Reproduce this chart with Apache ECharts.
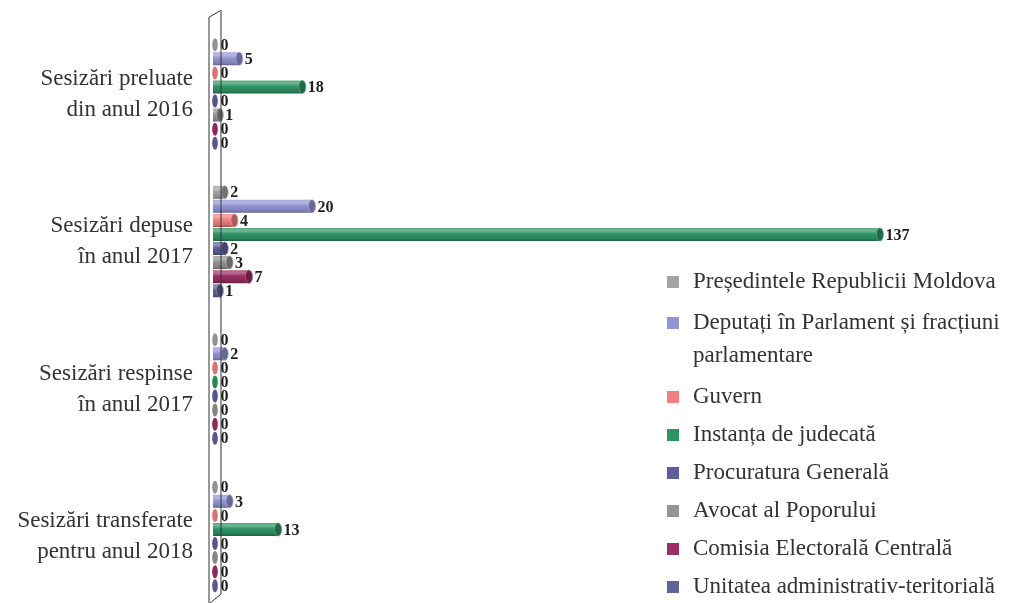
<!DOCTYPE html>
<html>
<head>
<meta charset="utf-8">
<title>Sesizări</title>
<script src="https://cdn.jsdelivr.net/npm/echarts@6.0.0/dist/echarts.min.js"></script>
<style>
  html, body { margin: 0; padding: 0; background: #ffffff; }
  #chart { width: 1018px; height: 603px; }
</style>
</head>
<body>
<div id="chart"></div>
<script>
// Categories (top to bottom)
const categories = [
  'Sesizări preluate\ndin anul 2016',
  'Sesizări depuse\nîn anul 2017',
  'Sesizări respinse\nîn anul 2017',
  'Sesizări transferate\npentru anul 2018'
];

// Authors of the complaints (series)
const seriesNames = [
  'Președintele Republicii Moldova',
  'Deputați în Parlament și fracțiuni parlamentare',
  'Guvern',
  'Instanța de judecată',
  'Procuratura Generală',
  'Avocat al Poporului',
  'Comisia Electorală Centrală',
  'Unitatea administrativ-teritorială'
];

// Values per category for each author
const presedintele = [0, 2, 0, 0];
const deputati     = [5, 20, 2, 3];
const guvern       = [0, 4, 0, 0];
const instanta     = [18, 137, 0, 13];
const procuratura  = [0, 2, 0, 0];
const avocat       = [1, 3, 0, 0];
const comisia      = [0, 7, 0, 0];
const unitatea     = [0, 1, 0, 0];

const seriesValues = [presedintele, deputati, guvern, instanta, procuratura, avocat, comisia, unitatea];

const colors = ['#a3a3a6', '#9494d4', '#f28080', '#2f9464', '#5e5e9e', '#949494', '#9b2e62', '#62629c'];

const FONT = '"Liberation Serif", "DejaVu Serif", serif';

function mix(hex, target, t) {
  const a = parseInt(hex.slice(1), 16);
  const r = (a >> 16) & 255, g = (a >> 8) & 255, b = a & 255;
  const tv = target === 'white' ? 255 : 0;
  const f = v => Math.round(v + (tv - v) * t);
  return 'rgb(' + f(r) + ',' + f(g) + ',' + f(b) + ')';
}

// Category centres sit on the axis ticks (boundaryGap: false)
const GRID_LEFT = 213, GRID_TOP = 94, GRID_HEIGHT = 442.5, X_MAX = 150, GRID_WIDTH = 728;
const BAR_THICK = 13;

function makeRender(color) {
  return function (params, api) {
    const n = seriesNames.length;
    const val = api.value(0);
    const cat = api.value(1);
    const p0 = api.coord([0, cat]);
    const p1 = api.coord([val, cat]);
    const band = api.size([0, 1])[1];
    const pitch = band * 14.1 / 148;
    const y = p0[1] + (params.seriesIndex - (n - 1) / 2) * pitch;
    const h = BAR_THICK;
    const rx = val > 0 ? 3.5 : 2.8;
    const capX = p1[0] + 2;
    const children = [];
    if (val > 0) {
      children.push({
        type: 'rect',
        shape: { x: p0[0], y: y - h / 2, width: capX - p0[0], height: h },
        style: {
          fill: new echarts.graphic.LinearGradient(0, 0, 0, 1, [
            { offset: 0, color: mix(color, 'white', 0.2) },
            { offset: 0.22, color: mix(color, 'white', 0.32) },
            { offset: 0.45, color: color },
            { offset: 0.85, color: mix(color, 'black', 0.15) },
            { offset: 1, color: mix(color, 'black', 0.35) }
          ])
        }
      });
    }
    children.push({
      type: 'ellipse',
      shape: { cx: capX, cy: y, rx: rx, ry: h / 2 },
      style: {
        fill: val > 0 ? mix(color, 'black', 0.3) : mix(color, 'black', 0.1),
        stroke: val > 0 ? mix(color, 'white', 0.2) : null,
        lineWidth: 0.8
      }
    });
    children.push({
      type: 'text',
      style: {
        text: String(val),
        x: capX + 3.5 + 2,
        y: y + 1,
        fill: '#1e1e1e',
        font: 'bold 16px ' + FONT,
        verticalAlign: 'middle',
        align: 'left'
      }
    });
    return { type: 'group', children: children };
  };
}

const series = seriesNames.map((name, i) => ({
  name: name,
  type: 'custom',
  coordinateSystem: 'cartesian2d',
  clip: false,
  itemStyle: { color: colors[i] },
  encode: { x: 0, y: 1 },
  data: seriesValues[i].map((v, j) => [v, j]),
  renderItem: makeRender(colors[i]),
  z: 2
}));

const legendText = {
  color: '#333333',
  fontSize: 23,
  lineHeight: 36,
  fontFamily: FONT,
  padding: [0, 0, 0, 9]
};

function legendBlock(names, top, extra) {
  return Object.assign({
    orient: 'vertical',
    left: 667,
    top: top,
    padding: 0,
    icon: 'rect',
    itemWidth: 12,
    itemHeight: 12,
    itemGap: 2,
    data: names,
    textStyle: legendText
  }, extra || {});
}

const chart = echarts.init(document.getElementById('chart'), null, { renderer: 'canvas' });

chart.setOption({
  animation: false,
  backgroundColor: '#ffffff',
  grid: { left: GRID_LEFT, top: GRID_TOP, width: GRID_WIDTH, height: GRID_HEIGHT, containLabel: false },
  xAxis: {
    type: 'value', min: 0, max: X_MAX, show: false
  },
  yAxis: {
    type: 'category',
    inverse: true,
    boundaryGap: false,
    data: categories,
    axisLine: { show: false },
    axisTick: { show: false },
    splitLine: { show: false },
    axisLabel: {
      margin: 20,
      color: '#333333',
      fontSize: 23,
      lineHeight: 31,
      fontFamily: FONT,
      align: 'right'
    }
  },
  legend: [
    legendBlock([seriesNames[0]], 264),
    // two-line entry: a blank first line keeps the icon beside "Deputați ..."
    legendBlock([seriesNames[1]], 273.5, {
      formatter: () => ' \nDeputați în Parlament și fracțiuni\nparlamentare',
      textStyle: Object.assign({}, legendText, { lineHeight: 33 })
    }),
    legendBlock(seriesNames.slice(2), 381, {
      itemGap: 6,
      height: 226,
      textStyle: Object.assign({}, legendText, { lineHeight: 32 })
    })
  ],
  series: series
});

// Thin 3D wall behind the start of the bars
const x0 = chart.convertToPixel({ xAxisIndex: 0 }, 0);
const yFirst = chart.convertToPixel({ yAxisIndex: 0 }, categories[0]);
const yLast = chart.convertToPixel({ yAxisIndex: 0 }, categories[categories.length - 1]);
const halfBand = (yLast - yFirst) / (categories.length - 1) / 2;
const wallTop = yFirst - halfBand - 3, wallBottom = 603;
chart.setOption({
  graphic: [{
    type: 'polyline',
    z: 10,
    silent: true,
    shape: {
      points: [
        [x0 - 4, wallBottom + 1],
        [x0 - 4, wallTop],
        [x0 + 8, wallTop - 7],
        [x0 + 8, wallBottom - 9],
        [x0 - 4, wallBottom + 1]
      ]
    },
    style: { stroke: '#333333', lineWidth: 1, fill: null }
  }]
});
</script>
</body>
</html>
